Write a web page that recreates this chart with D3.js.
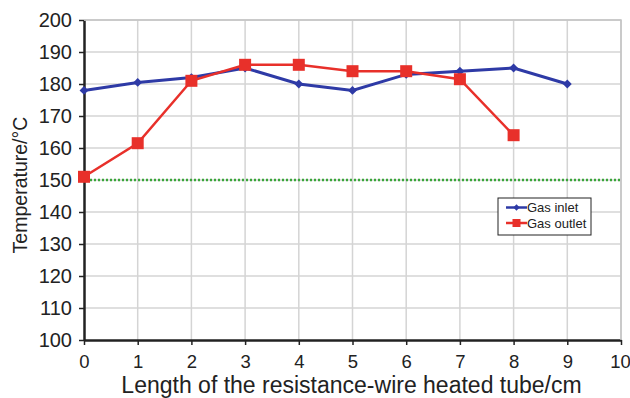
<!DOCTYPE html>
<html>
  <head>
    <script src="https://d3js.org/d3.v7.min.js"></script>
    <style>
      body { margin: 0; background: #fff; }
      text { font-family: "Liberation Sans", Arial, sans-serif; fill: #222; }
    </style>
  </head>
  <body>
  </body>
</html>

<script>
  // data
  var lengths = [0, 1, 2, 3, 4, 5, 6, 7, 8, 9];
  var gasInlet = [178, 180.5, 182, 185, 180, 178, 183, 184, 185, 180];
  var gasOutlet = [151, 161.5, 181, 186, 186, 184, 184, 181.5, 164];
  var limitTemp = 150;
  var xTicks = [0, 1, 2, 3, 4, 5, 6, 7, 8, 9, 10];
  var yTicks = [100, 110, 120, 130, 140, 150, 160, 170, 180, 190, 200];

  var width = 630, height = 398;
  var plotLeft = 84, plotRight = 621, plotTop = 20, plotBottom = 340;

  var svg = d3.select("body").append("svg")
              .attr("width", width)
              .attr("height", height);

  var x = d3.scaleLinear().domain([0, 10]).range([plotLeft, plotRight]);
  var y = d3.scaleLinear().domain([100, 200]).range([plotBottom, plotTop]);

  // grid
  svg.append("g").selectAll("line")
     .data(xTicks.slice(1))
     .enter().append("line")
     .attr("x1", function(d) { return x(d); })
     .attr("x2", function(d) { return x(d); })
     .attr("y1", plotTop).attr("y2", plotBottom)
     .attr("stroke", "#d4d4d4").attr("stroke-width", 1.5);

  svg.append("g").selectAll("line")
     .data(yTicks.slice(1))
     .enter().append("line")
     .attr("x1", plotLeft).attr("x2", plotRight)
     .attr("y1", function(d) { return y(d); })
     .attr("y2", function(d) { return y(d); })
     .attr("stroke", "#d4d4d4").attr("stroke-width", 1.5);

  // axes
  var xAxis = svg.append("g")
     .attr("transform", "translate(0," + plotBottom + ")")
     .call(d3.axisBottom(x).tickValues(xTicks).tickSize(5).tickSizeOuter(0).tickPadding(10));
  var yAxis = svg.append("g")
     .attr("transform", "translate(" + plotLeft + ",0)")
     .call(d3.axisLeft(y).tickValues(yTicks).tickSize(5).tickSizeOuter(0).tickPadding(7));

  [xAxis, yAxis].forEach(function(a) {
    a.select(".domain").attr("stroke", "#222").attr("stroke-width", 2.5);
    a.selectAll(".tick line").attr("stroke", "#222").attr("stroke-width", 1.5);
    a.selectAll(".tick text").attr("font-family", "Liberation Sans, Arial, sans-serif").attr("fill", "#222");
  });
  xAxis.selectAll(".tick text").attr("font-size", 18.5);
  yAxis.selectAll(".tick text").attr("font-size", 20);
  xAxis.selectAll(".tick text").filter(function(d) { return d === 10; }).attr("dx", -1);

  // limit line
  svg.append("line")
     .attr("x1", plotLeft + 2).attr("x2", plotRight)
     .attr("y1", y(limitTemp)).attr("y2", y(limitTemp))
     .attr("stroke", "#3aa63a").attr("stroke-width", 2.5)
     .attr("stroke-dasharray", "2,2");

  var line = d3.line()
     .x(function(d, i) { return x(lengths[i]); })
     .y(function(d) { return y(d); });

  // gas inlet
  svg.append("path")
     .attr("d", line(gasInlet))
     .attr("fill", "none").attr("stroke", "#2e3aa6").attr("stroke-width", 3);
  svg.append("g").selectAll("path")
     .data(gasInlet)
     .enter().append("path")
     .attr("d", d3.symbol().type(d3.symbolDiamond2).size(50))
     .attr("transform", function(d, i) { return "translate(" + x(lengths[i]) + "," + y(d) + ")"; })
     .attr("fill", "#2e3aa6");

  // gas outlet
  svg.append("path")
     .attr("d", line(gasOutlet))
     .attr("fill", "none").attr("stroke", "#e8302a").attr("stroke-width", 2.5);
  svg.append("g").selectAll("rect")
     .data(gasOutlet)
     .enter().append("rect")
     .attr("x", function(d, i) { return x(lengths[i]) - 6; })
     .attr("y", function(d) { return y(d) - 6; })
     .attr("width", 12).attr("height", 12)
     .attr("fill", "#e8302a");

  // right and top border
  svg.append("path")
     .attr("d", "M" + plotLeft + "," + plotTop + "H" + plotRight + "V" + plotBottom)
     .attr("fill", "none").attr("stroke", "#c4c4c4").attr("stroke-width", 1.5);

  // legend
  var lg = svg.append("g").attr("transform", "translate(498,198)");
  lg.append("rect").attr("width", 93).attr("height", 37)
    .attr("fill", "#fff").attr("stroke", "#222").attr("stroke-width", 1);
  lg.append("line").attr("x1", 8).attr("x2", 29).attr("y1", 9.5).attr("y2", 9.5)
    .attr("stroke", "#2e3aa6").attr("stroke-width", 2.5);
  lg.append("path").attr("d", d3.symbol().type(d3.symbolDiamond2).size(25))
    .attr("transform", "translate(18.5,9.5)").attr("fill", "#2e3aa6");
  lg.append("line").attr("x1", 8).attr("x2", 29).attr("y1", 25).attr("y2", 25)
    .attr("stroke", "#e8302a").attr("stroke-width", 2.5);
  lg.append("rect").attr("x", 14.5).attr("y", 21).attr("width", 8).attr("height", 8)
    .attr("fill", "#e8302a");
  lg.append("text").attr("x", 29).attr("y", 14).attr("font-size", 13).attr("fill", "#222").text("Gas inlet");
  lg.append("text").attr("x", 29).attr("y", 29.5).attr("font-size", 13).attr("fill", "#222").text("Gas outlet");

  // axis titles
  svg.append("text")
     .attr("x", (plotLeft + plotRight) / 2 - 1).attr("y", 393)
     .attr("text-anchor", "middle").attr("font-size", 23).attr("fill", "#222")
     .text("Length of the resistance-wire heated tube/cm");
  svg.append("text")
     .attr("transform", "translate(27,185) rotate(-90)")
     .attr("text-anchor", "middle").attr("font-size", 19.5).attr("fill", "#222")
     .text("Temperature/°C");
</script>
